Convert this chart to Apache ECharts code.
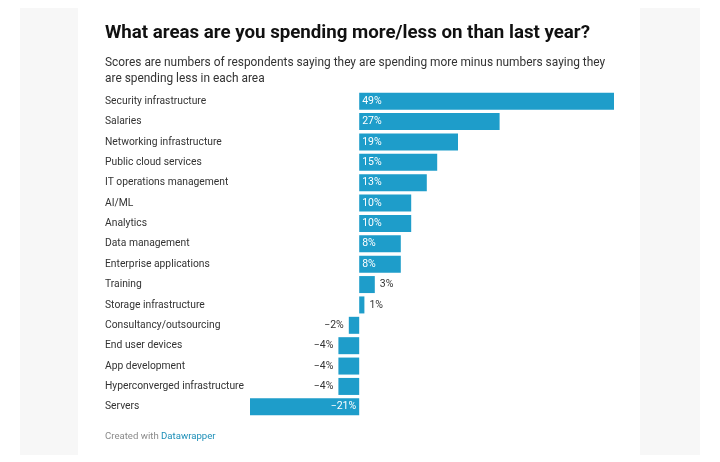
<!DOCTYPE html>
<html><head><meta charset="utf-8">
<script src="https://cdn.jsdelivr.net/npm/echarts@6/dist/echarts.min.js"></script>
<style>html,body{margin:0;padding:0;background:#fff}#c{width:720px;height:462px}</style>
</head><body><div id="c"></div>
<script>
const categories = ["Security infrastructure","Salaries","Networking infrastructure","Public cloud services","IT operations management","AI/ML","Analytics","Data management","Enterprise applications","Training","Storage infrastructure","Consultancy/outsourcing","End user devices","App development","Hyperconverged infrastructure","Servers"];
const values = [49,27,19,15,13,10,10,8,8,3,1,-2,-4,-4,-4,-21];
const titleText = "What areas are you spending more/less on than last year?";
const subtitleText = "Scores are numbers of respondents saying they are spending more minus numbers saying they\nare spending less in each area";

const FONT = "Roboto, 'Noto Sans', sans-serif";
const BAR = "#1e9dca";
const fmt = v => (v < 0 ? "\u2212" + Math.abs(v) : v) + "%";

const data = values.map(v => {
  let label;
  if (v >= 8) label = {position: "insideLeft", color: "#fff", distance: 3};
  else if (v > 0) label = {position: "right", color: "#333", distance: 5};
  else if (v > -6) label = {position: "left", color: "#333", distance: 5};
  else label = {position: "insideRight", color: "#fff", distance: 3};
  return {value: v, label};
});

const chart = echarts.init(document.getElementById("c"), null, {renderer: "canvas"});
chart.setOption({
  backgroundColor: "#fff",
  animation: false,
  graphic: [
    {type: "rect", z: -10, shape: {x: 20, y: 8, width: 58, height: 447}, style: {fill: "#f7f7f7"}},
    {type: "rect", z: -10, shape: {x: 640, y: 8, width: 60, height: 447}, style: {fill: "#f7f7f7"}}
  ],
  title: [
    {text: titleText, left: 100, top: 19, padding: 5, textStyle: {fontFamily: FONT, fontSize: 18.7, fontWeight: "bold", color: "#111"}},
    {text: subtitleText, left: 100, top: 50, padding: 5, textStyle: {fontFamily: FONT, fontSize: 11.9, fontWeight: "normal", color: "#333", lineHeight: 16}},
    {text: "{a|Created with }{b|Datawrapper}", left: 100, top: 427, padding: 5, textStyle: {fontFamily: FONT, fontSize: 9.6, fontWeight: "normal", rich: {a: {color: "#8a8a8a", fontSize: 9.6, fontWeight: "normal", fontFamily: FONT}, b: {color: "#1d8fb8", fontSize: 9.6, fontWeight: "normal", fontFamily: FONT}}}}
  ],
  grid: {left: 250, right: 106, top: 91, bottom: 45, containLabel: false},
  xAxis: {type: "value", min: -21, max: 49, show: false},
  yAxis: {
    type: "category", data: categories, inverse: true,
    axisLine: {show: false}, axisTick: {show: false}, splitLine: {show: false},
    axisLabel: {align: "left", margin: 145, fontFamily: FONT, fontSize: 10.3, color: "#333"}
  },
  series: [{
    type: "bar", data: data, barWidth: 17,
    itemStyle: {color: BAR},
    label: {show: true, fontFamily: FONT, fontSize: 10.5, formatter: p => fmt(p.value)}
  }]
});
</script></body></html>
